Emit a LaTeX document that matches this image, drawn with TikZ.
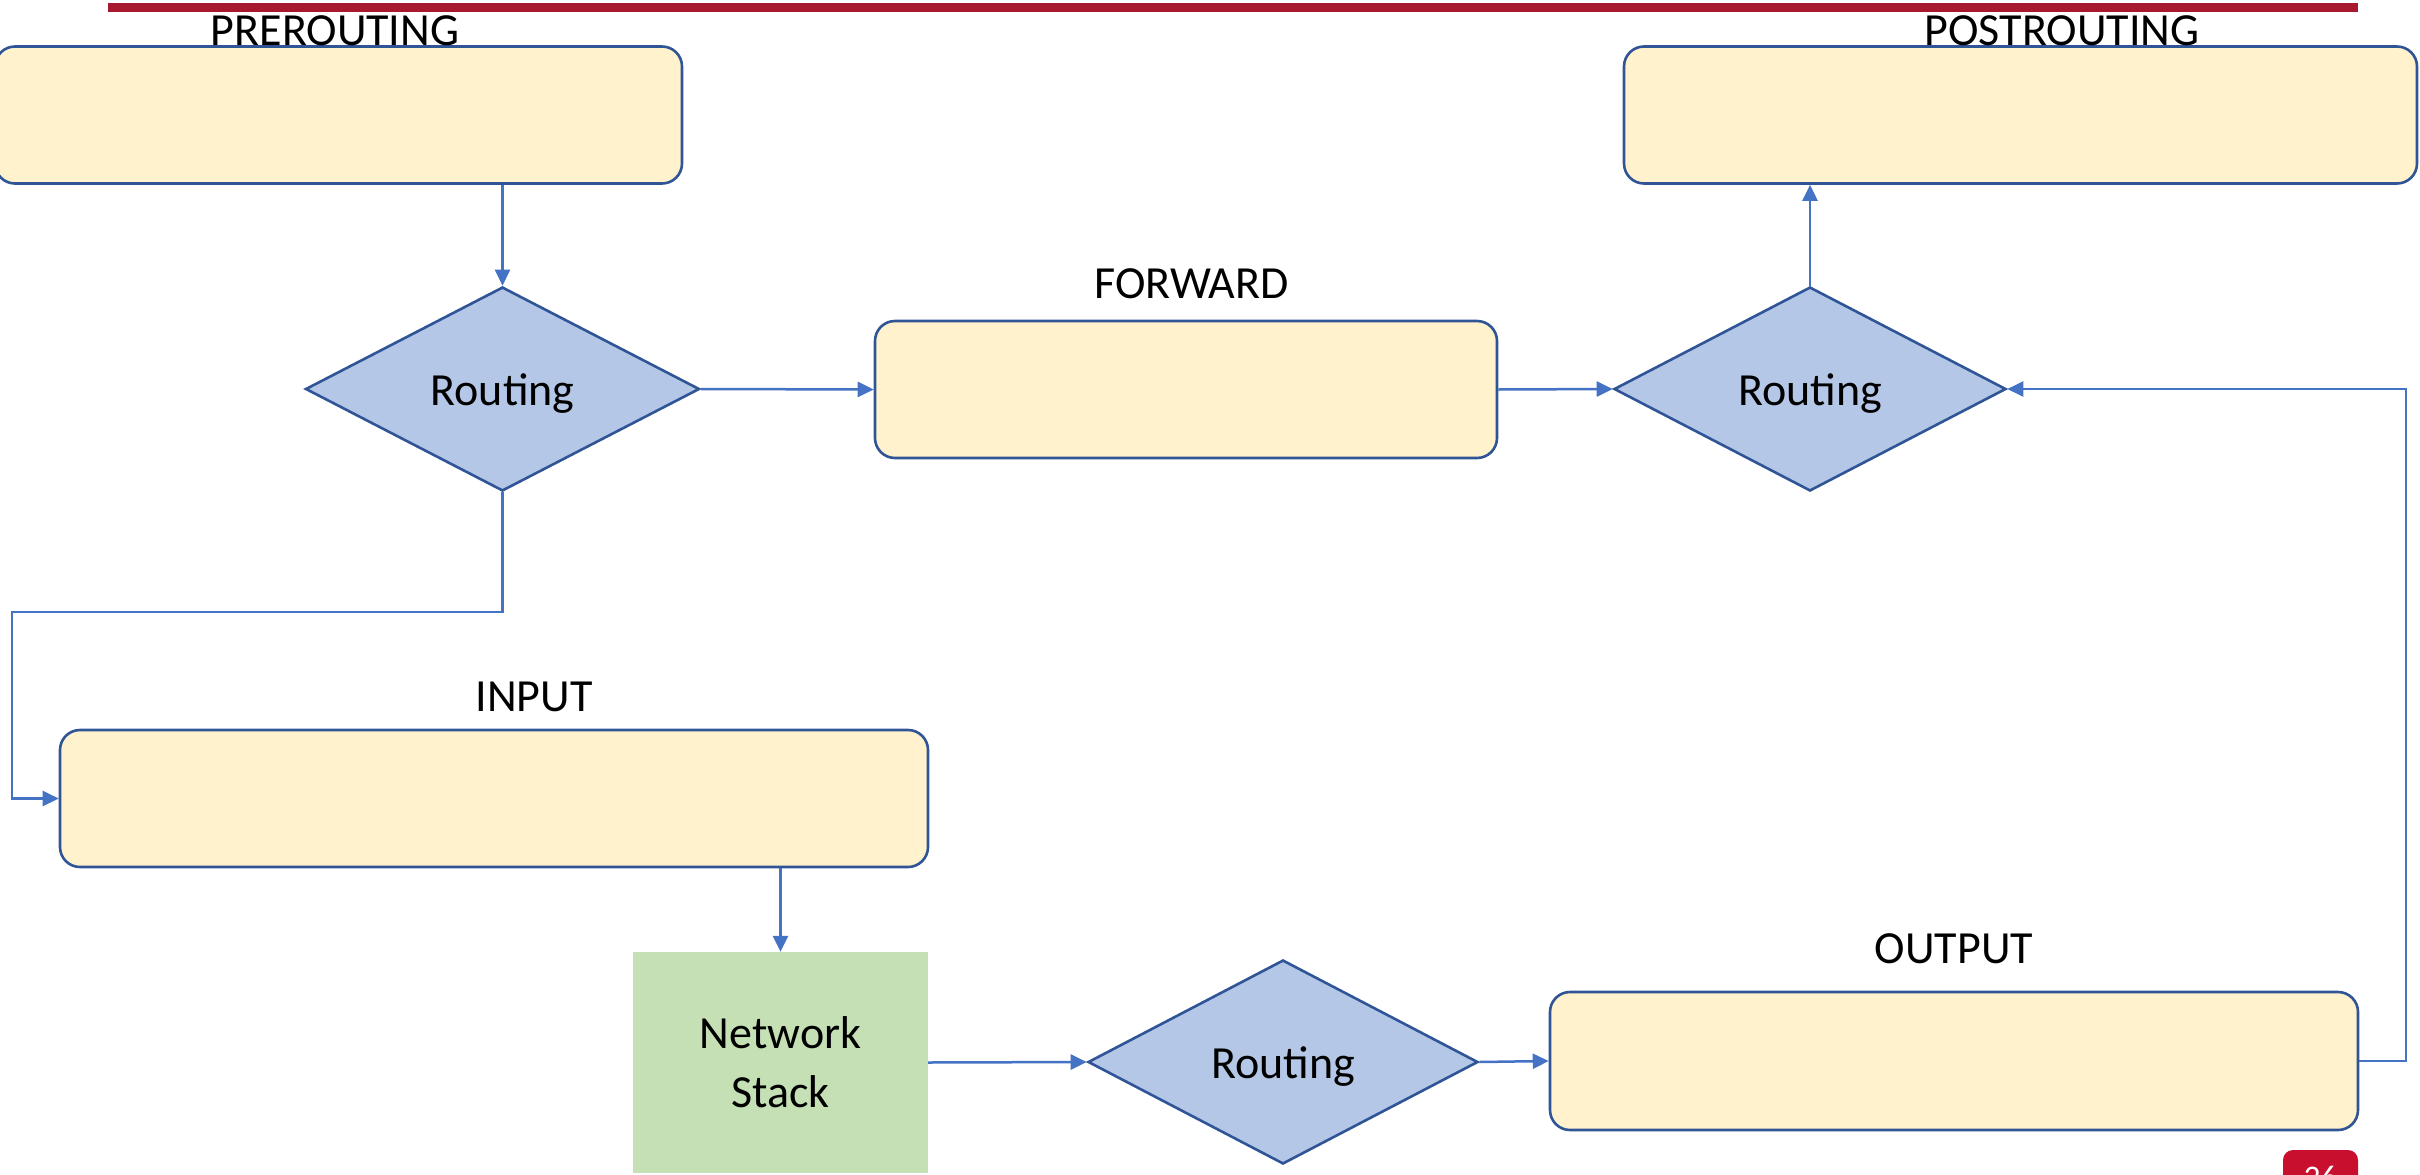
\documentclass[tikz,border=0pt]{standalone}
\usepackage{fontspec}
\setmainfont{Carlito}
\usetikzlibrary{shapes.geometric,arrows.meta}

\definecolor{boxfill}{HTML}{FFF2CC}
\definecolor{boxline}{HTML}{2F5597}
\definecolor{decfill}{HTML}{B4C7E7}
\definecolor{stackfill}{HTML}{C5E0B4}
\definecolor{wire}{HTML}{4472C4}
\definecolor{barred}{HTML}{A6192E}
\definecolor{badgered}{HTML}{C8102E}

\newcommand{\lowered}[1]{\raisebox{-5pt}[\height][\depth]{#1}}

\tikzset{
  chainbox/.style={draw=boxline, fill=boxfill, line width=2.6pt, rounded corners=20pt,
    inner sep=0pt, minimum height=137pt},
  decision/.style={diamond, shape aspect=2, draw=boxline, fill=decfill, line width=2.6pt,
    inner sep=0pt, minimum width=392pt, minimum height=204pt,
    font=\fontsize{46}{57}\selectfont},
  stackbox/.style={fill=stackfill, inner sep=0pt, align=center,
    font=\fontsize{46}{59}\selectfont},
  chainlabel/.style={anchor=base, inner sep=0pt, font=\fontsize{46}{57}\selectfont},
  conn/.style={draw=wire, line width=2.5pt, -{Triangle[length=16pt,width=15pt]}},
}

\begin{document}
\begin{tikzpicture}[x=1pt, y=-1pt]
\useasboundingbox (0,0) rectangle (2420,1175);

% title bar
\fill[barred] (108,3) rectangle (2358,12);

% chain boxes
\node[chainbox, minimum width=687pt] (pre)  at (338.5,115) {};
\node[chainbox, minimum width=793pt] (post) at (2020.5,115) {};
\node[chainbox, minimum width=622pt] (fwd)  at (1186,389.5) {};
\node[chainbox, minimum width=868pt] (inp)  at (494,798.5) {};
\node[chainbox, minimum width=808pt, minimum height=138pt] (out) at (1954,1061) {};

% chain names
\node[chainlabel] (preL)  at (335,45)    {PREROUTING};
\node[chainlabel] (postL) at (2062,45)   {POSTROUTING};
\node[chainlabel] (fwdL)  at (1191.5,298) {FORWARD};
\node[chainlabel] (inpL)  at (534,711.5) {INPUT};
\node[chainlabel] (outL)  at (1954,963)  {OUTPUT};

% routing decisions
\node[decision, minimum width=394pt] (d1) at (502.5,389) {\lowered{Routing}};
\node[decision] (d2) at (1810,389) {\lowered{Routing}};
\node[decision, minimum width=390pt] (d3) at (1283,1062) {\lowered{Routing}};

% local process
\node[stackbox, minimum width=295pt, minimum height=221pt] (ns) at (780.5,1062.5) {Network\\Stack};

% bend points
\coordinate (c1) at (12,612);
\coordinate (c2) at (2406,1061);

% connectors
\draw[conn] (pre.south -| d1.north) -- (d1.north);
\draw[conn] (d1.east) -- (fwd.west);
\draw[conn] (fwd.east) -- (d2.west);
\draw[conn] (d2.north) -- (d2.north |- post.south);
\draw[conn] (d1.south) |- (c1) |- (inp.west);
\draw[conn] (inp.south -| ns.north) -- (ns.north);
\draw[conn] (ns.east) -- (d3.west);
\draw[conn] (d3.east) -- (out.west);
\draw[conn] (out.east) -- (c2) |- (d2.east);

% page number badge
\fill[badgered, rounded corners=10pt] (2283,1150) rectangle (2358,1210);
\node[anchor=base, inner sep=0pt, text=white, font=\fontsize{33}{40}\selectfont] (pg) at (2320.5,1188) {26};
\end{tikzpicture}
\end{document}
